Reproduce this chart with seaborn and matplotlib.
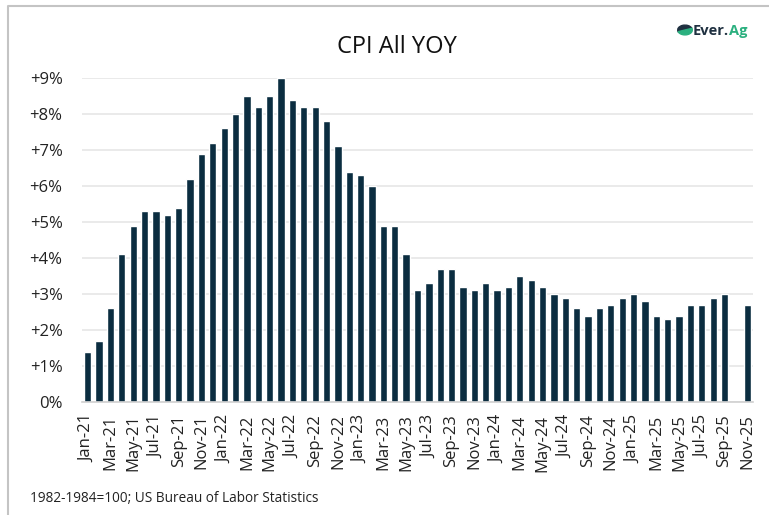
import numpy as np
import pandas as pd
import seaborn as sns
import matplotlib.pyplot as plt
from matplotlib.lines import Line2D
from matplotlib.patches import Wedge

# month labels Jan-21 .. Nov-25
months = ['Jan-21', 'Feb-21', 'Mar-21', 'Apr-21', 'May-21', 'Jun-21', 'Jul-21', 'Aug-21', 'Sep-21', 'Oct-21', 'Nov-21', 'Dec-21',
          'Jan-22', 'Feb-22', 'Mar-22', 'Apr-22', 'May-22', 'Jun-22', 'Jul-22', 'Aug-22', 'Sep-22', 'Oct-22', 'Nov-22', 'Dec-22',
          'Jan-23', 'Feb-23', 'Mar-23', 'Apr-23', 'May-23', 'Jun-23', 'Jul-23', 'Aug-23', 'Sep-23', 'Oct-23', 'Nov-23', 'Dec-23',
          'Jan-24', 'Feb-24', 'Mar-24', 'Apr-24', 'May-24', 'Jun-24', 'Jul-24', 'Aug-24', 'Sep-24', 'Oct-24', 'Nov-24', 'Dec-24',
          'Jan-25', 'Feb-25', 'Mar-25', 'Apr-25', 'May-25', 'Jun-25', 'Jul-25', 'Aug-25', 'Sep-25', 'Oct-25', 'Nov-25']

# CPI YoY %, Oct-25 not published
cpi_2021 = [1.4, 1.7, 2.6, 4.1, 4.9, 5.3, 5.3, 5.2, 5.4, 6.2, 6.9, 7.2]
cpi_2022 = [7.6, 8.0, 8.5, 8.2, 8.5, 9.0, 8.4, 8.2, 8.2, 7.8, 7.1, 6.4]
cpi_2023 = [6.3, 6.0, 4.9, 4.9, 4.1, 3.1, 3.3, 3.7, 3.7, 3.2, 3.1, 3.3]
cpi_2024 = [3.1, 3.2, 3.5, 3.4, 3.2, 3.0, 2.9, 2.6, 2.4, 2.6, 2.7, 2.9]
cpi_2025 = [3.0, 2.8, 2.4, 2.3, 2.4, 2.7, 2.7, 2.9, 3.0, np.nan, 2.7]

df = pd.DataFrame({'month': months,
                   'cpi': cpi_2021 + cpi_2022 + cpi_2023 + cpi_2024 + cpi_2025})

sns.set_style("white")
plt.rcParams['font.family'] = ['Open Sans', 'DejaVu Sans']

fig = plt.figure(figsize=(7.69, 5.15), dpi=100)
ax = fig.add_axes([82 / 769, 1 - 402 / 515, 671 / 769, 324 / 515])

sns.barplot(data=df, x='month', y='cpi', order=months, color='#0b2d40',
            saturation=1, width=0.64, ax=ax, zorder=3)

ax.set_ylim(0, 9)
ax.set_xlim(-0.5, len(months) - 0.5)
ax.set_yticks(range(0, 10))
ax.set_yticklabels(['0%'] + ['+%d%%' % i for i in range(1, 10)])
ax.set_xticks(range(0, len(months), 2))
ax.set_xticklabels(months[::2], rotation=90)
ax.tick_params(axis='y', length=0, pad=14, labelsize=12, labelcolor='#222222')
ax.tick_params(axis='x', length=0, pad=9, labelsize=12, labelcolor='#222222')
ax.set_xlabel('')
ax.set_ylabel('')
ax.grid(axis='y', color='#e6e6e6', linewidth=1.2, zorder=0)
for s in ['top', 'right', 'left']:
    ax.spines[s].set_visible(False)
ax.spines['bottom'].set_color('#d0d0d0')
ax.spines['bottom'].set_linewidth(1.2)
ax.spines['bottom'].set_zorder(4)

fig.text(397 / 769, 1 - 47 / 515, 'CPI All YOY', ha='center', va='center',
         fontsize=17, color='#111111')
fig.text(30 / 769, 1 - 498 / 515, '1982-1984=100; US Bureau of Labor Statistics',
         ha='left', va='center', fontsize=9.8, color='#222222')

# logo
fig.add_artist(Wedge((685 / 769, 1 - 30 / 515), 0.0095, 20, 200, color='#1f3040',
                     transform=fig.transFigure))
fig.add_artist(Wedge((685 / 769, 1 - 30 / 515), 0.0095, 200, 380, color='#2bb07f',
                     transform=fig.transFigure))
t1 = fig.text(693 / 769, 1 - 31 / 515, 'Ever.', ha='left', va='center', fontsize=10.5,
              fontweight='bold', color='#1f3040')
fig.canvas.draw()
bb = t1.get_window_extent()
fig.text(bb.x1 / fig.bbox.width, 1 - 31 / 515, 'Ag', ha='left', va='center',
         fontsize=10.5, fontweight='bold', color='#2bb07f')

# outer frame
fig.add_artist(Line2D([8 / 769, 8 / 769, 1.0], [0.0, 1 - 6 / 515, 1 - 6 / 515],
                      color='#c4c4c4', linewidth=1.5, transform=fig.transFigure))

fig.savefig('out.png', dpi=100)
